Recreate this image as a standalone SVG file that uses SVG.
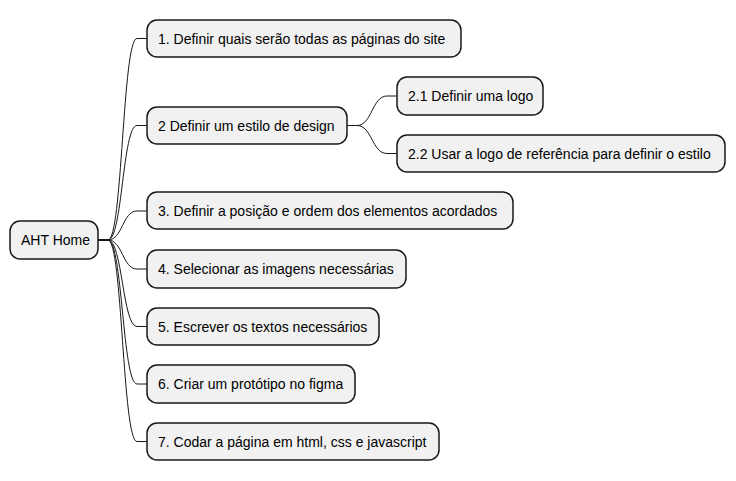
<svg xmlns="http://www.w3.org/2000/svg" width="736" height="481" viewBox="0 0 736 481">
<style>
.n rect{fill:#F1F1F1;stroke:#181818;stroke-width:1.5}
.n text{font-family:"Liberation Sans",Arial,sans-serif;font-size:14px;fill:#000}
.c path{fill:none;stroke:#181818;stroke-width:1}
</style>
<rect width="736" height="481" fill="#FFFFFF"/>
<g class="c">
<path d="M98,240 L108,240 C122.5,240 122.5,38.5 137,38.5 L147,38.5"/>
<path d="M98,240 L108,240 C122.5,240 122.5,125.5 137,125.5 L147,125.5"/>
<path d="M98,240 L108,240 C122.5,240 122.5,211 137,211 L147,211"/>
<path d="M98,240 L108,240 C122.5,240 122.5,269 137,269 L147,269"/>
<path d="M98,240 L108,240 C122.5,240 122.5,326.5 137,326.5 L147,326.5"/>
<path d="M98,240 L108,240 C122.5,240 122.5,384 137,384 L147,384"/>
<path d="M98,240 L108,240 C122.5,240 122.5,441.5 137,441.5 L147,441.5"/>
<path d="M347,125.5 L357,125.5 C372,125.5 372,96 387,96 L397,96"/>
<path d="M347,125.5 L357,125.5 C372,125.5 372,153.5 387,153.5 L397,153.5"/>
</g>
<g id="root" class="n"><rect x="10" y="221" width="88" height="38" rx="10"/><text x="21" y="245">AHT Home</text></g>
<g id="n1" class="n"><rect x="147" y="20" width="314" height="37" rx="10"/><text x="158" y="43.5">1. Definir quais serão todas as páginas do site</text></g>
<g id="n2" class="n"><rect x="147" y="107" width="200" height="37" rx="10"/><text x="158" y="130.5">2 Definir um estilo de design</text></g>
<g id="n21" class="n"><rect x="397" y="77" width="146" height="38" rx="10"/><text x="408" y="101">2.1 Definir uma logo</text></g>
<g id="n22" class="n"><rect x="397" y="135" width="328" height="37" rx="10"/><text x="408" y="158.5">2.2 Usar a logo de referência para definir o estilo</text></g>
<g id="n3" class="n"><rect x="147" y="192" width="366" height="37" rx="10"/><text x="158" y="216">3. Definir a posição e ordem dos elementos acordados</text></g>
<g id="n4" class="n"><rect x="147" y="250" width="259" height="38" rx="10"/><text x="158" y="274">4. Selecionar as imagens necessárias</text></g>
<g id="n5" class="n"><rect x="147" y="308" width="232" height="37" rx="10"/><text x="158" y="331.5">5. Escrever os textos necessários</text></g>
<g id="n6" class="n"><rect x="147" y="365" width="208" height="38" rx="10"/><text x="158" y="389">6. Criar um protótipo no figma</text></g>
<g id="n7" class="n"><rect x="147" y="423" width="292" height="37" rx="10"/><text x="158" y="446.5">7. Codar a página em html, css e javascript</text></g>
</svg>
